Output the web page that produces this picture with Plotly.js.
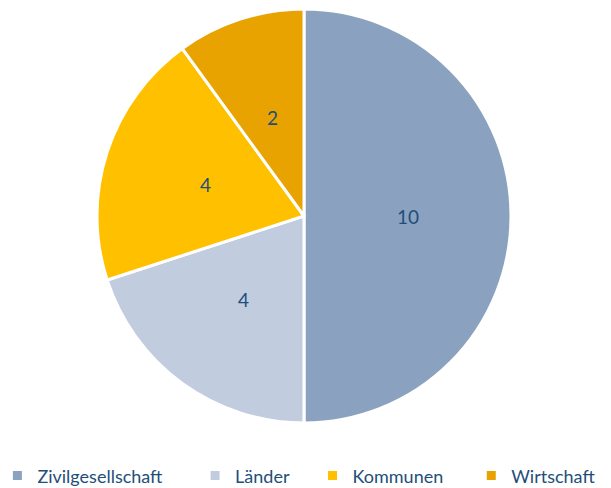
<!DOCTYPE html>
<html>
<head>
<meta charset="utf-8">
<script src="https://cdn.plot.ly/plotly-3.0.1.min.js"></script>
<style>html,body{margin:0;padding:0;background:#fff;}#chart{width:611px;height:488px;}</style>
</head>
<body>
<div id="chart"></div>
<script>
const categories = ["Zivilgesellschaft", "Länder", "Kommunen", "Wirtschaft"];
const values = [10, 4, 4, 2];
const colors = ["#8AA2C0", "#C2CCDF", "#FFC000", "#E9A300"];

const FONT = "Lato, 'Open Sans', sans-serif";
const TEXT_COLOR = "#1F4E79";

const W = 611, H = 488;
const M = { l: 0, r: 0, t: 9, b: 65 };
const plotW = W - M.l - M.r, plotH = H - M.t - M.b;
const R = plotH / 2;
const cxPx = 304; // pie centre in pixels from left
const domainX = [(cxPx - R) / plotW, (cxPx + R) / plotW];

// trailing non-breaking spaces widen the gaps between legend entries
const legendPad = [6, 4, 5, 0];
const legendLabels = categories.map((c, i) => c + "\u00A0".repeat(legendPad[i]));

const trace = {
  type: "pie",
  labels: legendLabels,
  values: values,
  sort: false,
  direction: "clockwise",
  rotation: 0,
  domain: { x: domainX, y: [0, 1] },
  marker: { colors: colors, line: { color: "#FFFFFF", width: 3 } },
  textinfo: "none",
  hoverinfo: "label+value"
};

// value labels at half radius on each slice's bisector (Excel-style "center")
const total = values.reduce((a, b) => a + b, 0);
let cum = 0;
const annotations = values.map((v) => {
  const theta = 2 * Math.PI * (cum + v / 2) / total;
  cum += v;
  return {
    xref: "paper", yref: "paper",
    x: (cxPx + 0.5 * R * Math.sin(theta)) / plotW,
    y: 0.5 + 0.5 * R * Math.cos(theta) / plotH,
    text: String(v),
    showarrow: false,
    font: { family: FONT, size: 19, color: TEXT_COLOR },
    xanchor: "center", yanchor: "middle"
  };
});

const layout = {
  width: W,
  height: H,
  margin: M,
  paper_bgcolor: "#FFFFFF",
  showlegend: true,
  annotations: annotations,
  legend: {
    orientation: "h",
    xref: "container", x: 0.49, xanchor: "center",
    yref: "container", y: 0.025, yanchor: "middle",
    font: { family: FONT, size: 18, color: TEXT_COLOR },
    traceorder: "normal"
  }
};

Plotly.newPlot("chart", [trace], layout, { displayModeBar: false, staticPlot: true });
</script>
</body>
</html>
